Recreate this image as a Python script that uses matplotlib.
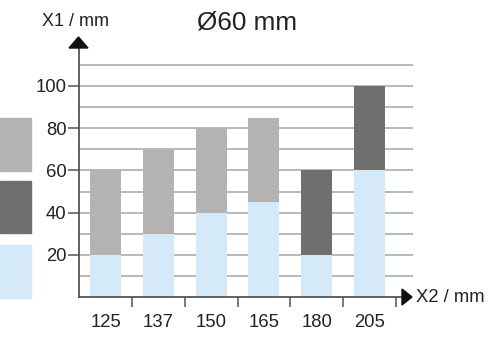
import matplotlib.pyplot as plt
from matplotlib.patches import Rectangle, Polygon

# data
sizes = ["125", "137", "150", "165", "180", "205"]
blue_part = [20, 30, 40, 45, 20, 60]
light_gray_part = [40, 40, 40, 40, 0, 0]
dark_gray_part = [0, 0, 0, 0, 40, 40]
y_ticks = [20, 40, 60, 80, 100]
grid_levels = [10, 20, 30, 40, 50, 60, 70, 80, 90, 100, 110]

c_blue = "#d4eaf9"
c_light = "#b3b3b3"
c_dark = "#6f6f6e"
c_axis = "#555555"
c_grid = "#a6a6a6"

W, H = 493, 338
plt.rcParams["font.family"] = ["Liberation Sans", "DejaVu Sans"]

fig = plt.figure(figsize=(W / 100, H / 100), dpi=100)


def fx(px):
    return px / W


def fy(py):
    return 1 - py / H


# axes in pixel terms: left 79, right 413, bottom 297, top 48
ax = fig.add_axes([fx(79), fy(297), fx(413 - 79), (297 - 48) / H])
px_per_unit = 21.1 / 10
ax.set_ylim(0, (297 - 48) / px_per_unit)
step = 52.8
ax.set_xlim(-(105.5 - 79) / step, (413 - 105.5) / step)

x = list(range(len(sizes)))
for lvl in grid_levels:
    ax.axhline(lvl, color=c_grid, lw=1.1, zorder=1)

bw = 31 / step
ax.bar(x, blue_part, width=bw, color=c_blue, zorder=2)
ax.bar(x, light_gray_part, width=bw, bottom=blue_part, color=c_light, zorder=2)
ax.bar(x, dark_gray_part, width=bw, bottom=blue_part, color=c_dark, zorder=2)

for s in ["top", "right"]:
    ax.spines[s].set_visible(False)
for s in ["left", "bottom"]:
    ax.spines[s].set_color(c_axis)
    ax.spines[s].set_linewidth(1.3)
    ax.spines[s].set_zorder(3)
ax.spines["bottom"].set_bounds(ax.get_xlim()[0], (402 - 105.5) / step)

ax.set_yticks(y_ticks)
ax.set_yticklabels([str(v) for v in y_ticks])
ax.tick_params(axis="y", length=8, width=1.1, color=c_axis, pad=1,
               labelsize=13.3, labelcolor="#222222")

ax.set_xticks(x)
ax.set_xticklabels(sizes)
ax.set_xticks([i + 0.5 for i in x], minor=True)
ax.tick_params(axis="x", which="major", length=0, pad=12,
               labelsize=13.3, labelcolor="#222222")
ax.tick_params(axis="x", which="minor", length=7, width=1.1, color=c_axis)

# arrow heads
fig.add_artist(Polygon([[fx(69), fy(48)], [fx(88), fy(48)], [fx(78.5), fy(37)]],
                       closed=True, color="#111111", transform=fig.transFigure))
fig.add_artist(Polygon([[fx(402), fy(289)], [fx(402), fy(305)], [fx(412), fy(297)]],
                       closed=True, color="#111111", transform=fig.transFigure))

# legend swatches (cut off at the left edge)
for top, bot, col in [(118, 171, c_light), (181, 233, c_dark), (245, 298, c_blue)]:
    fig.add_artist(Rectangle((0, fy(bot)), fx(31), (bot - top) / H,
                             color=col, transform=fig.transFigure))

fig.text(fx(76), fy(22), "X1 / mm", ha="center", va="center", fontsize=13,
         color="#222222")
fig.text(fx(416), fy(298), "X2 / mm", ha="left", va="center", fontsize=13.3,
         color="#222222")
fig.text(fx(247), fy(22), "Ø60 mm", ha="center", va="center", fontsize=18.8,
         color="#222222")

fig.savefig("out.png", dpi=100)
